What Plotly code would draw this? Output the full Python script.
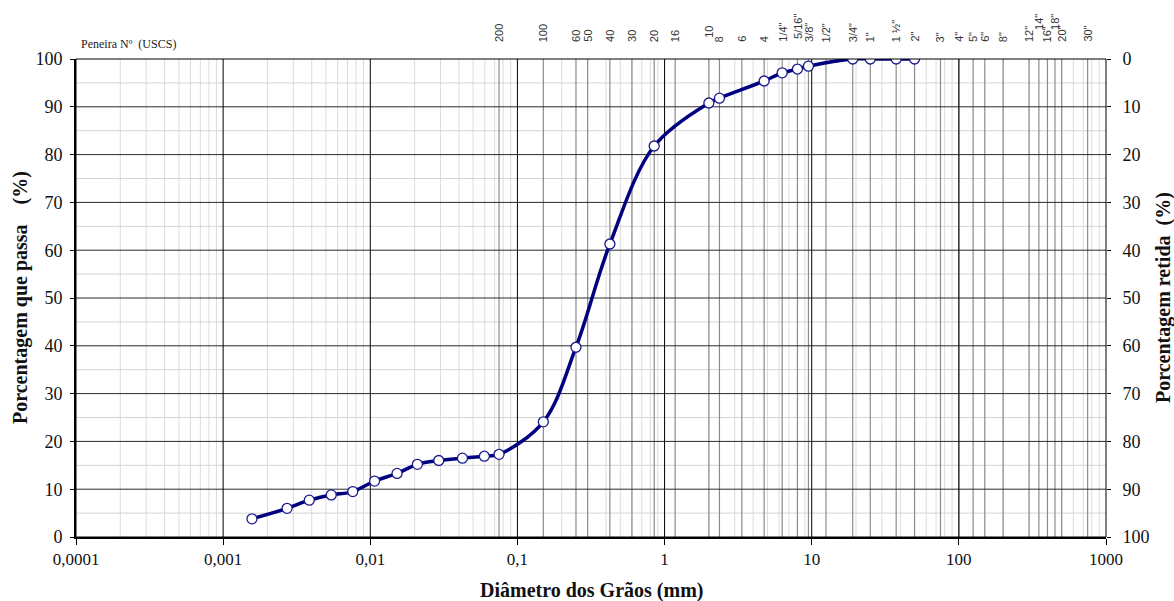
import math
import plotly.graph_objects as go

# Grain-size distribution: particle diameter (mm) and percent passing
diametro_mm = [0.00157, 0.00272, 0.00385, 0.00543, 0.0076, 0.0107, 0.0152, 0.0209,
               0.0292, 0.0423, 0.0596, 0.075, 0.15, 0.25, 0.425, 0.85, 2.0, 2.36,
               4.75, 6.3, 8.0, 9.5, 19.0, 25.0, 37.5, 50.0]
passante_pct = [3.8, 6.0, 7.7, 8.8, 9.5, 11.7, 13.3, 15.2,
                16.0, 16.5, 16.9, 17.3, 24.1, 39.7, 61.3, 81.8, 90.8, 91.8,
                95.4, 97.1, 97.9, 98.5, 100, 100, 100, 100]

# USCS sieve designations and openings (mm)
peneira_rotulos = ["200", "100", "60", "50", "40", "30", "20", "16", "10", "8", "6", "4",
                   "1/4\"", "5/16\"", "3/8\"", "1/2\"", "3/4\"", "1\"", "1 ½\"", "2\"",
                   "3\"", "4\"", "5\"", "6\"", "8\"", "12\"", "14\"", "16\"", "18\"",
                   "20\"", "30\""]
peneira_mm = [0.075, 0.15, 0.25, 0.3, 0.425, 0.6, 0.85, 1.18, 2.0, 2.36, 3.35, 4.75,
              6.3, 8.0, 9.5, 12.5, 19.0, 25.0, 37.5, 50.0,
              75.0, 100.0, 125.0, 150.0, 200.0, 300.0, 350.0, 400.0, 450.0,
              500.0, 750.0]
# labels lifted above their neighbours so they do not overlap
rotulos_elevados = {"10": 4, "5/16\"": 3, "14\"": 12, "18\"": 12}

x_tick_vals = [1e-4, 1e-3, 1e-2, 1e-1, 1, 10, 100, 1000]
x_tick_text = ["0,0001", "0,001", "0,01", "0,1", "1", "10", "100", "1000"]
y_ticks = list(range(0, 101, 10))

X_MIN, X_MAX = 1e-4, 1e3
SERIF = "Liberation Serif"
SANS = "Liberation Sans"
TXT = "#111111"

fig = go.Figure()


def add_vlines(xs, color, width):
    xx, yy = [], []
    for v in xs:
        xx += [v, v, None]
        yy += [0, 100, None]
    fig.add_trace(go.Scatter(x=xx, y=yy, mode="lines", line=dict(color=color, width=width),
                             hoverinfo="skip", showlegend=False))


def add_hlines(ys, color, width):
    xx, yy = [], []
    for v in ys:
        xx += [X_MIN, X_MAX, None]
        yy += [v, v, None]
    fig.add_trace(go.Scatter(x=xx, y=yy, mode="lines", line=dict(color=color, width=width),
                             hoverinfo="skip", showlegend=False))


# minor log grid (2..9 within each decade)
minor_x = [m * 10 ** d for d in range(-4, 3) for m in range(2, 10)]
add_vlines(minor_x, "#dcdcdc", 1)
add_hlines([v + 5 for v in range(0, 100, 10)], "#d4d4d4", 1)
# sieve openings
add_vlines(peneira_mm, "#8c8c8c", 1.2)
# major grid
add_hlines(list(range(10, 100, 10)), "#2a2a2a", 1)
add_vlines(x_tick_vals[1:-1], "#000000", 1)

# grading curve
fig.add_trace(go.Scatter(
    x=diametro_mm, y=passante_pct, mode="lines+markers",
    line=dict(color="#000080", width=3.5, shape="spline", smoothing=1.0),
    marker=dict(symbol="circle", size=10, color="white",
                line=dict(color="#1a1a8c", width=1.3)),
    showlegend=False, hoverinfo="x+y",
))

# helper trace so the retained-percentage axis is drawn
fig.add_trace(go.Scatter(x=[1], y=[0], yaxis="y2", mode="markers",
                         marker=dict(opacity=0), hoverinfo="skip", showlegend=False))

# sieve labels along the top
for rot, mm in zip(peneira_rotulos, peneira_mm):
    fig.add_annotation(
        x=math.log10(mm), xref="x", y=1, yref="paper",
        text=rot, textangle=-90, showarrow=False,
        xanchor="center", yanchor="bottom",
        yshift=15 + rotulos_elevados.get(rot, 0),
        font=dict(family=SANS, size=11, color="#333333"),
    )

fig.add_annotation(
    x=0, xref="paper", y=1, yref="paper", text="Peneira Nº\u00a0\u00a0(USCS)",
    showarrow=False, xanchor="left", yanchor="bottom", xshift=3, yshift=6,
    font=dict(family=SERIF, size=12, color="#222222"),
)

# axis titles
fig.add_annotation(
    x=0, xref="paper", y=0.5, yref="paper", xshift=-56,
    text="<b>Porcentagem que passa\u00a0\u00a0\u00a0\u00a0(%)</b>", textangle=-90,
    showarrow=False, xanchor="center", yanchor="middle",
    font=dict(family=SERIF, size=20, color=TXT),
)
fig.add_annotation(
    x=1, xref="paper", y=0.5, yref="paper", xshift=57,
    text="<b>Porcentagem retida\u00a0\u00a0(%)</b>", textangle=-90,
    showarrow=False, xanchor="center", yanchor="middle",
    font=dict(family=SERIF, size=20, color=TXT),
)
fig.add_annotation(
    x=0.5, xref="paper", y=0, yref="paper", yshift=-53,
    text="<b>Diâmetro dos Grãos (mm)</b>",
    showarrow=False, xanchor="center", yanchor="middle",
    font=dict(family=SERIF, size=20, color=TXT),
)

# plot frame
fig.add_shape(type="rect", xref="paper", yref="paper", x0=0, x1=1, y0=0, y1=1,
              line=dict(color="#000000", width=1), layer="above")

fig.update_layout(
    width=1174, height=601,
    margin=dict(l=76, r=68, t=59, b=64, autoexpand=False),
    paper_bgcolor="white", plot_bgcolor="white",
    xaxis=dict(
        type="log", range=[math.log10(X_MIN), math.log10(X_MAX)],
        tickvals=x_tick_vals, ticktext=x_tick_text,
        showgrid=False, zeroline=False, automargin=False,
        showline=True, linecolor="#000000", linewidth=2,
        ticks="outside", ticklen=6, tickcolor="#000000",
        tickfont=dict(family=SERIF, size=17, color=TXT),
    ),
    yaxis=dict(
        range=[0, 100], tickvals=y_ticks,
        showgrid=False, zeroline=False, automargin=False,
        showline=True, linecolor="#000000", linewidth=2,
        ticks="outside", ticklen=4, tickcolor="#000000",
        ticklabelstandoff=4,
        tickfont=dict(family=SERIF, size=18, color=TXT),
    ),
    yaxis2=dict(
        range=[100, 0], tickvals=y_ticks, overlaying="y", side="right",
        showgrid=False, zeroline=False, showline=False, automargin=False,
        ticks="outside", ticklen=4, tickcolor="#000000",
        ticklabelstandoff=8,
        tickfont=dict(family=SERIF, size=18, color=TXT),
    ),
)

fig.write_html("out.html")
